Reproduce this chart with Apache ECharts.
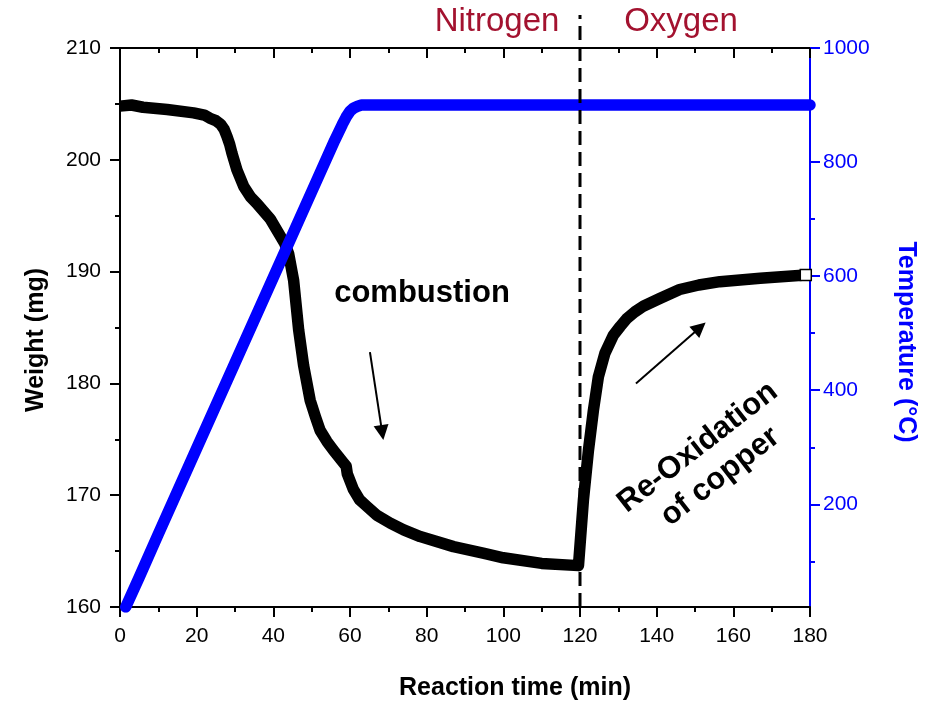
<!DOCTYPE html>
<html>
<head>
<meta charset="utf-8">
<title>Weight and temperature vs reaction time</title>
<script src="https://cdn.jsdelivr.net/npm/echarts@6/dist/echarts.min.js"></script>
<style>
  html, body { margin: 0; padding: 0; background: #fff; }
  #chart { width: 932px; height: 704px; }
</style>
</head>
<body>
<div id="chart"></div>
<script>
// Sample weight (mg) during the run
const weightTime = [0, 3, 6, 12.3, 19.2, 22, 23.6, 25, 26.2, 27.2, 27.9, 28.6, 29.2, 30.5, 32.3, 34, 35.7, 39.2, 41.8, 43, 44, 45.3,
  46.6, 47.9, 49.6, 51, 52.2, 54, 55.7, 58.3, 59.0, 59.3, 60.9, 62.5, 64.4, 67, 70.5, 74, 78.3, 87, 95, 100, 110, 119.6,
  120.9, 122.2, 123.5, 124.8, 126.5, 128.7, 130.5, 132.2, 134.3, 136.5, 140.8, 146, 151, 156.5, 167, 178.9];
const weightMg = [204.8, 204.9, 204.7, 204.5, 204.2, 204.0, 203.7, 203.5, 203.2, 202.7, 202.1, 201.4, 200.6, 199.1, 197.6, 196.7, 196.1, 194.7, 193.2, 192.5, 191.6, 189.2,
  184.8, 181.6, 178.5, 177.0, 175.8, 174.8, 174.0, 172.9, 172.6, 171.9, 170.5, 169.6, 169.0, 168.2, 167.5, 166.9, 166.3, 165.4, 164.8, 164.4, 163.9, 163.7,
  169.6, 174.0, 177.6, 180.6, 182.7, 184.3, 185.1, 185.8, 186.4, 186.9, 187.6, 188.4, 188.8, 189.1, 189.4, 189.7];

// Furnace temperature (°C)
const tempTime = [1.5, 5, 10, 20, 30, 40, 50, 56, 58, 59, 60, 61, 62, 63, 70, 90, 120, 150, 180];
const tempC = [20, 72, 148, 298, 448, 598, 748, 838, 866, 879, 889, 895, 898, 900, 900, 900, 900, 900, 900];

// Gas switch from nitrogen to oxygen (min)
const switchTime = [120];

// Axis ticks
const timeTicks = [0, 20, 40, 60, 80, 100, 120, 140, 160, 180];
const weightTicks = [160, 170, 180, 190, 200, 210];
const tempTicks = [200, 400, 600, 800, 1000];
const tempMinorTicks = [100, 300, 500, 700, 900];

// Annotation arrows: [startTime, startWeight, endTime, endWeight]
const combustionArrow = [65.2, 182.8, 68.4, 175.6];
const oxidationArrow = [134.6, 180.0, 151.3, 185.0];

const FONT = '"Liberation Sans", Arial, sans-serif';
const BLUE = '#0000FF';
const GAS_RED = '#A3122F';

const weightData = weightTime.map((t, i) => [t, weightMg[i]]);
const tempData = tempTime.map((t, i) => [t, tempC[i]]);
const lastIdx = weightData.length - 1;

const chart = echarts.init(document.getElementById('chart'), null, { renderer: 'canvas' });

const tickLine = { color: '#000', width: 2 };
const gridBox = { left: 120, right: 122, top: 48, bottom: 97, containLabel: false };
const TEMP_MIN = 20, TEMP_MAX = 1000;

const option = {
  animation: false,
  backgroundColor: '#fff',
  // second grid shares the plot box and only carries the temperature minor ticks
  grid: [Object.assign({}, gridBox), Object.assign({}, gridBox)],
  xAxis: [
    {
      type: 'value', gridIndex: 0, position: 'bottom',
      min: timeTicks[0], max: timeTicks[timeTicks.length - 1], interval: 20,
      axisLine: { show: true, onZero: false, lineStyle: { color: '#000', width: 2 } },
      axisTick: { show: true, length: 10, lineStyle: tickLine },
      minorTick: { show: true, splitNumber: 2, length: 5, lineStyle: tickLine },
      axisLabel: { show: true, margin: 19, color: '#000', fontSize: 21, fontFamily: FONT },
      splitLine: { show: false }
    },
    {
      type: 'value', gridIndex: 0, position: 'top',
      min: timeTicks[0], max: timeTicks[timeTicks.length - 1], interval: 20,
      axisLine: { show: true, onZero: false, lineStyle: { color: '#000', width: 2 } },
      axisTick: { show: true, inside: true, length: 10, lineStyle: tickLine },
      minorTick: { show: true, splitNumber: 2, length: 5, lineStyle: tickLine },
      axisLabel: { show: false },
      splitLine: { show: false }
    },
    {
      type: 'value', gridIndex: 1, show: false,
      min: timeTicks[0], max: timeTicks[timeTicks.length - 1]
    }
  ],
  yAxis: [
    {
      type: 'value', gridIndex: 0, position: 'left',
      min: weightTicks[0], max: weightTicks[weightTicks.length - 1], interval: 10,
      axisLine: { show: true, onZero: false, lineStyle: { color: '#000', width: 2 } },
      axisTick: { show: true, length: 10, lineStyle: tickLine },
      minorTick: { show: true, splitNumber: 2, length: 5, lineStyle: tickLine },
      axisLabel: { show: true, margin: 19, color: '#000', fontSize: 21, fontFamily: FONT },
      splitLine: { show: false }
    },
    {
      type: 'value', gridIndex: 0, position: 'right',
      min: TEMP_MIN, max: TEMP_MAX,
      axisLine: { show: true, onZero: false, lineStyle: { color: BLUE, width: 2 } },
      axisTick: { show: true, length: 10, customValues: tempTicks, lineStyle: { color: BLUE, width: 2 } },
      axisLabel: {
        show: true, margin: 13, customValues: tempTicks, color: BLUE, fontSize: 21, fontFamily: FONT,
        formatter: v => String(v)
      },
      splitLine: { show: false }
    },
    {
      type: 'value', gridIndex: 1, position: 'right',
      min: TEMP_MIN, max: TEMP_MAX,
      axisLine: { show: false, onZero: false },
      axisTick: { show: true, length: 5, customValues: tempMinorTicks, lineStyle: { color: BLUE, width: 2 } },
      axisLabel: { show: false },
      splitLine: { show: false }
    }
  ],
  graphic: [
    { type: 'text', x: 497, y: 22, style: { text: 'Nitrogen', fill: GAS_RED, font: '33px ' + FONT, textAlign: 'center', textVerticalAlign: 'middle' } },
    { type: 'text', x: 681, y: 22, style: { text: 'Oxygen', fill: GAS_RED, font: '33px ' + FONT, textAlign: 'center', textVerticalAlign: 'middle' } },
    { type: 'text', x: 422, y: 293, style: { text: 'combustion', fill: '#000', font: 'bold 31px ' + FONT, textAlign: 'center', textVerticalAlign: 'middle' } },
    { type: 'text', x: 709, y: 462, rotation: 0.66, style: { text: 'Re-Oxidation\nof copper', fill: '#000', font: 'bold 31px ' + FONT, lineHeight: 37, textAlign: 'center', textVerticalAlign: 'middle' } },
    { type: 'text', x: 36, y: 340, rotation: Math.PI / 2, style: { text: 'Weight (mg)', fill: '#000', font: 'bold 25px ' + FONT, textAlign: 'center', textVerticalAlign: 'middle' } },
    { type: 'text', x: 906, y: 342, rotation: -Math.PI / 2, style: { text: 'Temperature (°C)', fill: BLUE, font: 'bold 25px ' + FONT, textAlign: 'center', textVerticalAlign: 'middle' } },
    { type: 'text', x: 515, y: 688, style: { text: 'Reaction time (min)', fill: '#000', font: 'bold 25px ' + FONT, textAlign: 'center', textVerticalAlign: 'middle' } }
  ],
  series: [
    {
      name: 'Weight',
      type: 'line',
      xAxisIndex: 0, yAxisIndex: 0,
      data: weightData,
      smooth: false,
      showSymbol: true,
      showAllSymbol: true,
      symbol: (value, params) => (params.dataIndex === lastIdx ? 'rect' : 'none'),
      symbolSize: 11,
      itemStyle: { color: '#fff', borderColor: '#000', borderWidth: 1.5 },
      lineStyle: { color: '#000', width: 11.5, join: 'round' },
      markLine: {
        silent: true,
        symbol: ['none', 'triangle'],
        symbolSize: 15,
        label: { show: false },
        itemStyle: { color: '#000' },
        lineStyle: { color: '#000', width: 2, type: 'solid' },
        data: [
          [{ coord: [combustionArrow[0], combustionArrow[1]] }, { coord: [combustionArrow[2], combustionArrow[3]] }],
          [{ coord: [oxidationArrow[0], oxidationArrow[1]] }, { coord: [oxidationArrow[2], oxidationArrow[3]] }]
        ]
      },
      z: 2
    },
    {
      name: 'Temperature',
      type: 'line',
      xAxisIndex: 0, yAxisIndex: 1,
      data: tempData,
      smooth: false,
      showSymbol: false,
      lineStyle: { color: BLUE, width: 11.5, join: 'round', cap: 'round' },
      z: 3
    },
    {
      name: 'Gas switch',
      type: 'custom',
      xAxisIndex: 0, yAxisIndex: 0,
      clip: false,
      silent: true,
      z: 4,
      data: switchTime.map(t => [t]),
      renderItem: (params, api) => {
        const t = api.value(0);
        const bottom = api.coord([t, weightTicks[0]]);
        const top = api.coord([t, weightTicks[weightTicks.length - 1]]);
        return {
          type: 'line',
          shape: { x1: bottom[0], y1: bottom[1], x2: top[0], y2: top[1] - 33 },
          style: { stroke: '#000', lineWidth: 3, lineDash: [14, 7] }
        };
      }
    }
  ]
};

chart.setOption(option);
</script>
</body>
</html>
